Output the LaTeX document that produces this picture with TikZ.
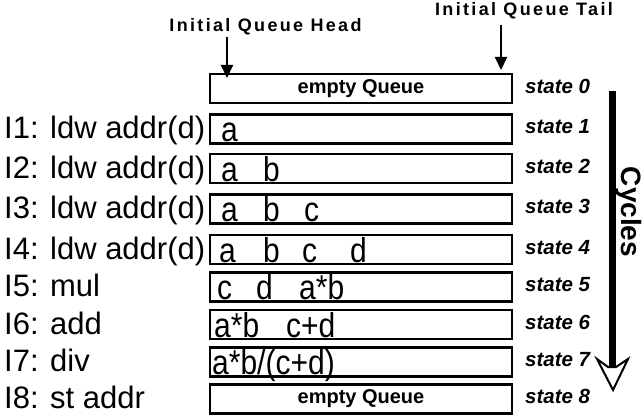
\documentclass[tikz,border=0pt]{standalone}
\usepackage{fontspec}
\usepackage{graphicx}
\setmainfont{Liberation Sans}
\usetikzlibrary{arrows.meta}
\newcommand\talltext[1]{\scalebox{1}[1.15]{#1}}
\tikzset{
  qbox/.style={draw, line width=2.5pt, minimum width=302pt, minimum height=29pt, inner sep=0pt},
  cell/.style={anchor=base west, inner sep=0pt, font=\fontsize{30}{31}\selectfont},
  instr/.style={anchor=base west, inner sep=0pt, font=\fontsize{31}{32}\selectfont},
  statelbl/.style={anchor=base west, inner sep=0pt, font=\fontsize{20.5}{21}\selectfont\bfseries\itshape},
  emptyq/.style={inner sep=0pt, font=\fontsize{20}{21}\selectfont\bfseries},
  ptrlbl/.style={anchor=base, inner sep=0pt, font=\fontsize{18}{19}\selectfont\bfseries\addfontfeature{LetterSpace=13}},
  ptr/.style={line width=2pt, -{Triangle[width=12pt,length=13pt]}}
}
\begin{document}
\begin{tikzpicture}[x=1pt,y=-1pt]
\useasboundingbox (0,0) rectangle (644,417);

% queue boxes, instruction labels and state labels
\foreach \i/\c/\lab in {
  0/88.5/{},
  1/129/{I1: ldw addr(d)},
  2/168.5/{I2: ldw addr(d)},
  3/209/{I3: ldw addr(d)},
  4/249.5/{I4: ldw addr(d)},
  5/287/{I5: mul},
  6/324.5/{I6: add},
  7/362/{I7: div},
  8/399/{I8: st addr}}{
  \node[qbox] (q\i) at (361,\c) {};
  \node[instr] (l\i) at (4,\c+9.5) {\lab};
  \node[statelbl] (s\i) at (525,\c+4.5) {state \i};
}

% queue contents
\node[emptyq] (e0) at (q0) {empty Queue};
\node[emptyq] (e8) at (q8) {empty Queue};

\node[cell] (r1a) at (221,141.5) {\talltext{a}};

\node[cell] (r2a) at (221,181) {\talltext{a}};
\node[cell] (r2b) at (263,181) {\talltext{b}};

\node[cell] (r3a) at (221,221.5) {\talltext{a}};
\node[cell] (r3b) at (263,221.5) {\talltext{b}};
\node[cell] (r3c) at (304,221.5) {\talltext{c}};

\node[cell] (r4a) at (219,262) {\talltext{a}};
\node[cell] (r4b) at (263,262) {\talltext{b}};
\node[cell] (r4c) at (302,262) {\talltext{c}};
\node[cell] (r4d) at (350,262) {\talltext{d}};

\node[cell] (r5c) at (217,299.5) {\talltext{c}};
\node[cell] (r5d) at (256,299.5) {\talltext{d}};
\node[cell] (r5m) at (299,299.5) {\talltext{a*b}};

\node[cell] (r6m) at (214,337) {\talltext{a*b}};
\node[cell] (r6s) at (286,337) {\talltext{c+d}};

\node[cell] (r7q) at (212,374.5) {\talltext{a*b/(c+d)}};

% head and tail pointers
\node[ptrlbl] (head) at (265.5,32) {Initial Queue Head};
\node[ptrlbl] (tail) at (524,16) {Initial Queue Tail};
\coordinate (hs) at (227,37);
\coordinate (ht) at (227,78);
\coordinate (ts) at (501,25);
\coordinate (tt) at (501,70);
\draw[ptr] (hs) -- (ht);
\draw[ptr] (ts) -- (tt);

% cycles axis
\coordinate (cy0) at (612,91);
\coordinate (cy1) at (612,367);
\draw[line width=7pt] (cy0) -- (cy1);
\draw[line width=2pt, fill=white, line join=miter]
  (597,359) -- (608,367) -- (616,367) -- (628,359) -- (613,390) -- cycle;
\node[anchor=base, rotate=-90, inner sep=0pt, font=\fontsize{28}{29}\selectfont\bfseries] (cyc) at (621,212) {Cycles};
\end{tikzpicture}
\end{document}
